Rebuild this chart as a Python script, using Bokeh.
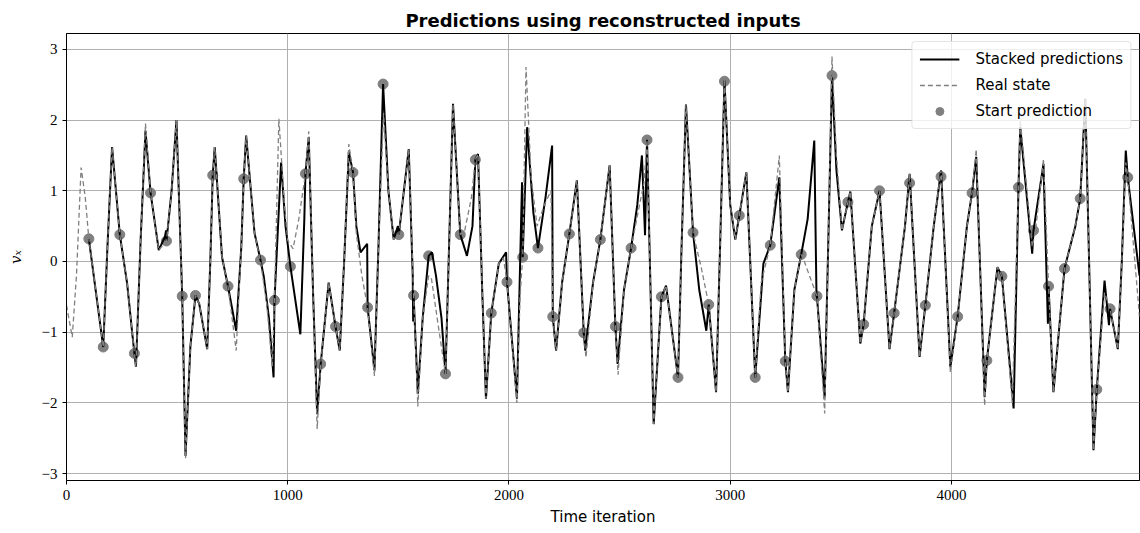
from bokeh.plotting import figure
from bokeh.models import ColumnDataSource, Range1d, FixedTicker, Legend, LegendItem
from bokeh.embed import file_html
from bokeh.resources import INLINE

# ---------------- data ----------------
real_t = [0, 26, 45, 66, 85, 101, 166, 185, 206, 241, 274, 300, 307, 314, 335, 357, 380, 417, 452, 475,
          497, 523, 538, 560, 583, 600, 636, 650, 661, 670, 703, 730, 767, 790, 801, 812, 850, 877, 905, 930,
          940, 960, 985, 1000, 1024, 1050, 1080, 1095, 1115, 1133, 1149, 1185, 1216, 1235, 1255, 1276, 1295,
          1310, 1335, 1361, 1392, 1410, 1433, 1455, 1479, 1502, 1525, 1547, 1569, 1588, 1610, 1637, 1650,
          1680, 1713, 1730, 1747, 1780, 1800, 1830, 1848, 1860, 1880, 1896, 1920, 1954, 1975, 1991, 2036,
          2050, 2062, 2077, 2100, 2127, 2160, 2190, 2198, 2213, 2240, 2273, 2307, 2338, 2348, 2380, 2413,
          2455, 2481, 2493, 2520, 2552, 2590, 2610, 2624, 2654, 2689, 2710, 2764, 2780, 2800, 2832, 2870,
          2903, 2936, 2955, 2974, 3000, 3023, 3041, 3073, 3113, 3140, 3181, 3222, 3249, 3261, 3290, 3321,
          3335, 3370, 3392, 3427, 3445, 3460, 3480, 3505, 3532, 3543, 3588, 3603, 3640, 3675, 3720, 3741,
          3790, 3811, 3856, 3882, 3920, 3953, 3995, 4028, 4070, 4093, 4112, 4150, 4160, 4208, 4228, 4275,
          4303, 4311, 4365, 4380, 4416, 4439, 4461, 4511, 4560, 4582, 4605, 4642, 4657, 4692, 4717, 4752,
          4770, 4788, 4797, 4850]
real_v = [-0.62, -1.07, -0.2, 1.33, 0.9, 0.32, -1.21, 0.2, 1.62, 0.38, -0.31, -1.1, -1.30, -1.49, 0.3, 1.95, 0.97, 0.16, 0.29, 1.0,
          2.0, -0.49, -2.79, -1.2, -0.48, -0.6, -1.24, 0.0, 1.22, 1.62, 0.06, -0.35, -1.26, 0.2, 1.17, 1.78, 0.4, 0.0, -0.6, -1.48,
          -0.55, 2.02, 0.8, 0.3, 0.18, 0.6, 1.24, 1.84, -0.5, -2.37, -1.45, -0.3, -0.92, -1.26, 0.0, 1.66, 1.26,
          0.4, -0.2, -0.65, -1.62, 0.2, 2.1, 1.0, 0.31, 0.38, 1.0, 1.59, -0.48, -2.05, -0.8, -0.2, -0.25,
          -0.9, -1.59, 0.3, 2.23, 0.38, 0.44, 0.9, 1.44, 1.52, -0.5, -1.94, -0.73, -0.03, 0.05, -0.29, -2.0,
          -0.5, 0.06, 2.75, 1.2, 0.5, 0.8, 1.0, -0.78, -1.26, -0.3, 0.39, 1.15, -1.01, -1.36, -0.3, 0.31,
          1.36, -0.92, -1.6, -0.4, 0.19, 0.8, 1.1, 1.72, -2.30, -0.50, -0.34, -1.64, 0.2, 2.22, 0.41, -0.1,
          -0.61, -1.85, 0.3, 2.58, 0.8, 0.31, 0.65, 1.26, -1.64, -0.3, 0.23, 1.5, -1.41, -1.85, -0.4, 0.1,
          0.0, -0.3, -0.49, -2.15, 0.5, 2.9, 1.5, 0.44, 0.84, 0.99, -1.16, -0.89, 0.5, 1.0, -1.24, -0.73,
          0.5, 1.24, -1.35, -0.62, 0.5, 1.29, -1.57, -0.78, 0.5, 0.97, 1.59, -2.04, -1.4, -0.08, -0.21, -2.0,
          1.05, 2.0, 0.21, 0.44, 1.45, -0.35, -1.85, -0.1, 0.5, 0.89, 2.3, -2.67, -1.81, -0.44, -0.67, -1.24,
          0.0, 1.4, 1.19, -0.78]

pred_t = [101, 166, 185, 206, 241, 274, 300, 307, 314, 335, 357, 380, 417, 445, 450, 452, 475, 497, 523, 538,
          560, 583, 600, 636, 650, 661, 670, 703, 730, 767, 790, 801, 812, 850, 877, 892, 915, 936, 940, 970,
          990, 1012, 1057, 1075, 1080, 1095, 1115, 1133, 1149, 1185, 1216, 1235, 1255, 1276, 1295, 1310,
          1329, 1359, 1361, 1392, 1410, 1428, 1431, 1455, 1479, 1498, 1502, 1525, 1547, 1565, 1567, 1569,
          1588, 1610, 1637, 1652, 1670, 1695, 1713, 1730, 1747, 1780, 1810, 1835, 1848, 1860, 1880, 1896,
          1920, 1954, 1987, 1991, 2036, 2059, 2062, 2082, 2110, 2131, 2165, 2195, 2198, 2213, 2240, 2273,
          2307, 2338, 2345, 2380, 2413, 2455, 2481, 2491, 2520, 2552, 2580, 2601, 2615, 2624, 2654, 2689,
          2710, 2764, 2780, 2800, 2832, 2860, 2892, 2903, 2936, 2955, 2974, 3000, 3023, 3041, 3073, 3113,
          3150, 3181, 3222, 3249, 3261, 3290, 3321, 3350, 3380, 3390, 3392, 3427, 3445, 3460, 3480, 3505,
          3532, 3543, 3588, 3603, 3640, 3675, 3720, 3741, 3790, 3811, 3856, 3882, 3920, 3953, 3995, 4028,
          4070, 4093, 4112, 4150, 4160, 4208, 4228, 4281, 4303, 4311, 4365, 4371, 4416, 4436, 4439, 4461,
          4511, 4560, 4582, 4605, 4642, 4657, 4692, 4712, 4717, 4752, 4770, 4788, 4797, 4850]
pred_v = [0.32, -1.21, 0.2, 1.62, 0.38, -0.31, -1.1, -1.30, -1.49, 0.3, 1.85, 0.97, 0.16, 0.35, 0.44, 0.29, 1.0, 2.0, -0.49, -2.75,
          -1.2, -0.48, -0.6, -1.24, 0.0, 1.22, 1.62, 0.06, -0.35, -0.98, 0.2, 1.17, 1.78, 0.4, 0.02, -0.22, -0.8, -1.64, -0.55, 1.40,
          0.5, -0.07, -1.03, 0.6, 1.24, 1.76, -0.5, -2.16, -1.45, -0.3, -0.92, -1.26, 0.0, 1.55, 1.26, 0.5,
          0.13, 0.25, -0.65, -1.54, 0.2, 2.19, 2.51, 1.0, 0.31, 0.5, 0.38, 1.0, 1.59, -0.2, -0.85, -0.48,
          -1.87, -0.8, 0.08, 0.13, -0.2, -0.8, -1.59, 0.3, 2.23, 0.38, 0.08, 0.5, 1.44, 1.52, -0.5, -1.94,
          -0.73, -0.03, 0.13, -0.29, -1.94, 1.12, 0.06, 1.90, 0.7, 0.19, 0.9, 1.64, -0.78, -1.26, -0.3, 0.39,
          1.15, -1.01, -1.26, -0.3, 0.31, 1.36, -0.92, -1.45, -0.4, 0.19, 0.8, 1.5, 0.37, 1.72, -2.30, -0.50,
          -0.34, -1.64, 0.2, 2.22, 0.41, -0.4, -0.98, -0.61, -1.85, 0.3, 2.56, 0.8, 0.31, 0.65, 1.26, -1.64,
          -0.03, 0.23, 1.19, -1.41, -1.85, -0.4, 0.1, 0.6, 1.71, -0.49, -0.49, -1.92, 0.5, 2.63, 1.3, 0.44,
          0.84, 0.99, -1.16, -0.89, 0.5, 1.0, -1.24, -0.73, 0.5, 1.24, -1.35, -0.62, 0.5, 1.29, -1.49, -0.78,
          0.5, 0.97, 1.48, -1.92, -1.4, -0.08, -0.21, -2.08, 1.05, 1.9, 0.11, 0.44, 1.38, -0.88, -0.35, -1.85,
          -0.1, 0.5, 0.89, 2.3, -2.67, -1.81, -0.27, -0.9, -0.67, -1.24, 0.0, 1.57, 1.19, -0.2]

start_t = [101, 166, 241, 307, 380, 452, 523, 583, 661, 730, 801, 877, 940, 1012, 1080, 1149,
           1216, 1295, 1361, 1431, 1502, 1569, 1637, 1713, 1780, 1848, 1920, 1991, 2062, 2131, 2198, 2273,
           2338, 2413, 2481, 2552, 2624, 2689, 2764, 2832, 2903, 2974, 3041, 3113, 3181, 3249, 3321, 3392,
           3460, 3532, 3603, 3675, 3741, 3811, 3882, 3953, 4028, 4093, 4160, 4228, 4303, 4371, 4439, 4511,
           4582, 4657, 4717, 4797]
start_v = [0.32, -1.21, 0.38, -1.30, 0.97, 0.29, -0.49, -0.48, 1.22, -0.35, 1.17, 0.02, -0.55, -0.07, 1.24, -1.45,
           -0.92, 1.26, -0.65, 2.51, 0.38, -0.48, 0.08, -1.59, 0.38, 1.44, -0.73, -0.29, 0.06, 0.19, -0.78, 0.39,
           -1.01, 0.31, -0.92, 0.19, 1.72, -0.50, -1.64, 0.41, -0.61, 2.55, 0.65, -1.64, 0.23, -1.41, 0.10, -0.49,
           2.63, 0.84, -0.89, 1.00, -0.73, 1.11, -0.62, 1.20, -0.78, 0.97, -1.40, -0.21, 1.05, 0.44, -0.35, -0.10,
           0.89, -1.81, -0.67, 1.19]

x_ticks = [0, 1000, 2000, 3000, 4000]
y_ticks = [-3, -2, -1, 0, 1, 2, 3]
y_tick_labels = {-3: "\u22123", -2: "\u22122", -1: "\u22121", 0: "0", 1: "1", 2: "2", 3: "3"}

TITLE = "Predictions using reconstructed inputs"
SANS = "DejaVu Sans"
SERIF = "Liberation Serif"

p = figure(width=1140, height=533, output_backend="svg", toolbar_location=None,
           x_range=Range1d(0, 4850), y_range=Range1d(-3.098, 3.225),
           min_border_left=66, min_border_right=1, min_border_top=33, min_border_bottom=53,
           title=TITLE)

p.title.text_font = SANS
p.title.text_font_size = "18px"
p.title.text_font_style = "bold"
p.title.text_color = "black"
p.title.align = "center"
p.title.standoff = 6
p.title.offset = 0

p.outline_line_color = "black"
p.outline_line_width = 1
p.background_fill_color = "white"
p.border_fill_color = "white"

for g in (p.xgrid, p.ygrid):
    g.grid_line_color = "#b0b0b0"
    g.grid_line_width = 1
p.xgrid.ticker = FixedTicker(ticks=x_ticks)
p.ygrid.ticker = FixedTicker(ticks=y_ticks)

p.xaxis.ticker = FixedTicker(ticks=x_ticks)
p.yaxis.ticker = FixedTicker(ticks=y_ticks)
p.yaxis.major_label_overrides = y_tick_labels
for ax in (p.xaxis[0], p.yaxis[0]):
    ax.axis_line_color = "black"
    ax.major_tick_line_color = "black"
    ax.major_tick_in = 0
    ax.major_tick_out = 4
    ax.minor_tick_line_color = None
    ax.major_label_text_font = SERIF
    ax.major_label_text_font_size = "15px"
    ax.major_label_text_color = "black"
    ax.major_label_standoff = 5

p.xaxis.axis_label = "Time iteration"
p.xaxis.axis_label_text_font = SANS
p.xaxis.axis_label_text_font_size = "15px"
p.xaxis.axis_label_text_font_style = "normal"
p.xaxis.axis_label_text_color = "black"
p.xaxis.axis_label_standoff = 5
p.yaxis.axis_label = "v\u2093"
p.yaxis.axis_label_text_font = "DejaVu Serif"
p.yaxis.axis_label_text_font_size = "15px"
p.yaxis.axis_label_text_font_style = "italic"
p.yaxis.axis_label_text_color = "black"
p.yaxis.axis_label_standoff = 14

start_src = ColumnDataSource(dict(t=start_t, v=start_v))
pred_src = ColumnDataSource(dict(t=pred_t, v=pred_v))
real_src = ColumnDataSource(dict(t=real_t, v=real_v))

r_start = p.scatter("t", "v", source=start_src, size=10, fill_color="#808080",
                    line_color="#808080", fill_alpha=1.0)
r_pred = p.line("t", "v", source=pred_src, line_color="black", line_width=2)
r_real = p.line("t", "v", source=real_src, line_color="#808080", line_width=1.3,
                line_dash="5 3")

legend = Legend(items=[LegendItem(label="Stacked predictions", renderers=[r_pred]),
                       LegendItem(label="Real state", renderers=[r_real]),
                       LegendItem(label="Start prediction", renderers=[r_start])],
                location="top_right")
legend.label_text_font = SANS
legend.label_text_font_size = "15px"
legend.label_text_color = "black"
legend.glyph_width = 40
legend.glyph_height = 20
legend.label_height = 20
legend.label_standoff = 16
legend.spacing = 6
legend.padding = 7
legend.margin = 8
legend.border_line_color = "#cccccc"
legend.border_line_width = 1
legend.background_fill_alpha = 0.8
legend.border_radius = 4
p.add_layout(legend)

open("out.html", "w").write(file_html(p, INLINE))
